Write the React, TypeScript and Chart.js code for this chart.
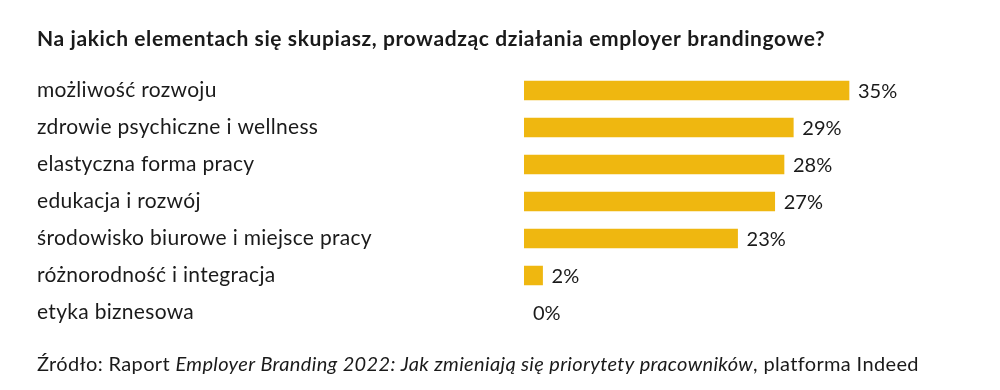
import React, { useEffect, useRef } from "react";
import { Chart, registerables } from "chart.js";

Chart.register(...registerables);

const TITLE = "Na jakich elementach się skupiasz, prowadząc działania employer brandingowe?";
const categories = [
  "możliwość rozwoju",
  "zdrowie psychiczne i wellness",
  "elastyczna forma pracy",
  "edukacja i rozwój",
  "środowisko biurowe i miejsce pracy",
  "różnorodność i integracja",
  "etyka biznesowa",
];
const values = [35, 29, 28, 27, 23, 2, 0];
const sourceParts = [
  { text: "Źródło: Raport ", italic: false },
  { text: "Employer Branding 2022: Jak zmieniają się priorytety pracowników", italic: true },
  { text: ", platforma Indeed", italic: false },
];

const FONT = "Lato, 'Noto Sans', sans-serif";
const TEXT_COLOR = "#1a1a1a";
const BAR_COLOR = "#EFB710";

const spacing = {
  id: "spacing",
  beforeDraw(chart: any) {
    chart.ctx.letterSpacing = "0.3px";
  },
};

const valueLabels = {
  id: "valueLabels",
  afterDatasetsDraw(chart: any) {
    const ctx = chart.ctx;
    const meta = chart.getDatasetMeta(0);
    ctx.save();
    ctx.letterSpacing = "0px";
    ctx.font = `20px ${FONT}`;
    ctx.fillStyle = TEXT_COLOR;
    ctx.textAlign = "left";
    ctx.textBaseline = "middle";
    meta.data.forEach((bar: any, i: number) => {
      ctx.fillText(values[i] + "%", bar.x + 9, bar.y + 1);
    });
    ctx.restore();
  },
};

const titleAndSource = {
  id: "titleAndSource",
  afterDraw(chart: any) {
    const ctx = chart.ctx;
    ctx.save();
    ctx.fillStyle = TEXT_COLOR;
    ctx.textBaseline = "alphabetic";
    ctx.textAlign = "left";
    ctx.letterSpacing = "0.6px";
    ctx.font = `bold 21px ${FONT}`;
    ctx.fillText(TITLE, 37, 46);

    ctx.letterSpacing = "0.35px";
    let x = 37;
    const y = 371;
    for (const p of sourceParts) {
      ctx.font = `${p.italic ? "italic " : ""}20px ${FONT}`;
      ctx.fillText(p.text, x, y);
      x += ctx.measureText(p.text).width;
    }
    ctx.restore();
  },
};

export default function App() {
  const ref = useRef<HTMLCanvasElement | null>(null);
  useEffect(() => {
    document.body.style.margin = "0";
    const chart = new Chart(ref.current!, {
      type: "bar",
      data: {
        labels: categories,
        datasets: [
          {
            data: values,
            backgroundColor: values.map((v) => (v > 0 ? BAR_COLOR : "rgba(0,0,0,0)")),
            barThickness: 19,
            borderWidth: 0,
          },
        ],
      },
      options: {
        indexAxis: "y",
        animation: false,
        responsive: false,
        layout: { padding: { left: 37, right: 11.7, top: 72, bottom: 59 } },
        plugins: {
          legend: { display: false },
          tooltip: { enabled: false },
          title: { display: false },
        },
        scales: {
          x: { display: false, min: 0, max: 50 },
          y: {
            grid: { display: false },
            border: { display: false },
            afterFit(scale: any) {
              scale.width = 487;
            },
            ticks: {
              crossAlign: "far",
              color: TEXT_COLOR,
              font: { family: FONT, size: 21 },
              padding: 0,
            },
          },
        },
      },
      plugins: [spacing, valueLabels, titleAndSource],
    });
    return () => chart.destroy();
  }, []);
  return (
    <div style={{ width: 1000, height: 390, background: "#fff" }}>
      <canvas ref={ref} width={1000} height={390} style={{ display: "block" }} />
    </div>
  );
}
